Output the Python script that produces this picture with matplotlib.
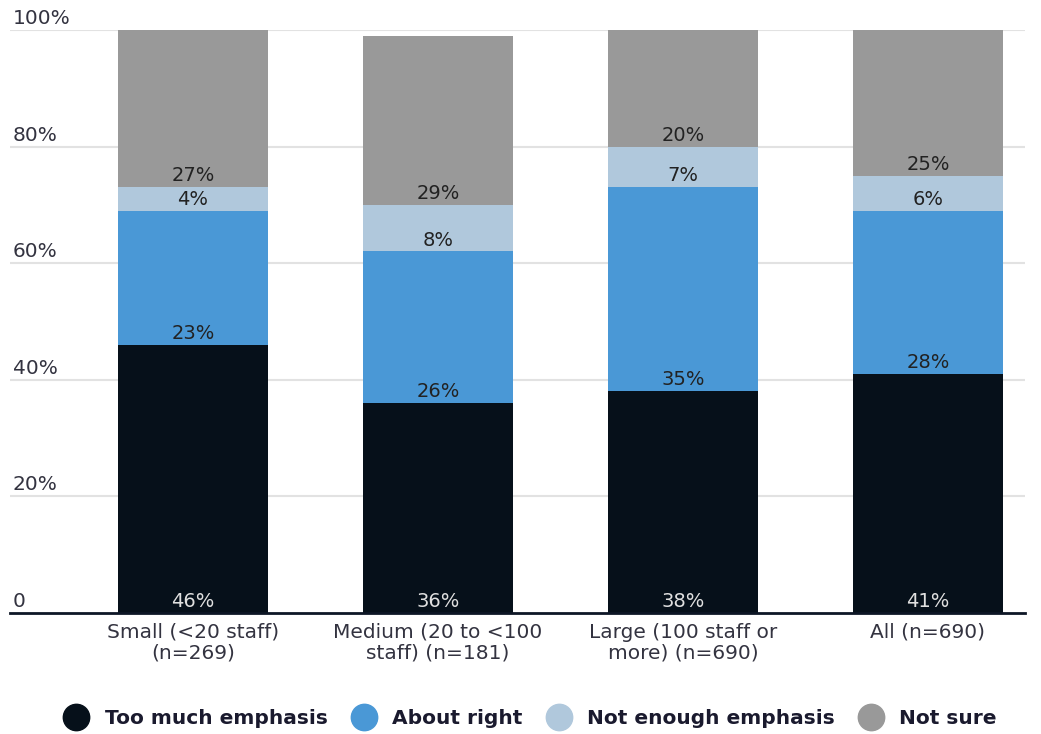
import matplotlib.pyplot as plt
from matplotlib.lines import Line2D

plt.rcParams['font.family'] = ['DejaVu Sans']

categories = ['Small (<20 staff)\n(n=269)', 'Medium (20 to <100\nstaff) (n=181)',
              'Large (100 staff or\nmore) (n=690)', 'All (n=690)']
series = ['Too much emphasis', 'About right', 'Not enough emphasis', 'Not sure']
too_much = [46, 36, 38, 41]
about_right = [23, 26, 35, 28]
not_enough = [4, 8, 7, 6]
not_sure = [27, 29, 20, 25]
yticks = [0, 20, 40, 60, 80, 100]
ytick_labels = ['0', '20%', '40%', '60%', '80%', '100%']

colors = ['#06101a', '#4a98d6', '#b0c8dc', '#999999']
label_colors = ['#e0e0e0', '#222222', '#222222', '#222222']

fig = plt.figure(figsize=(10.41, 7.34), dpi=100)
ax = fig.add_axes([0.0096, 0.1649, 0.975, 0.7943])

x = range(len(categories))
bottoms = [0] * len(categories)
for vals, col, lcol in zip([too_much, about_right, not_enough, not_sure], colors, label_colors):
    ax.bar(x, vals, width=0.612, bottom=bottoms, color=col, zorder=2)
    for i, v in enumerate(vals):
        ax.annotate(f'{v}%', (i, bottoms[i]), xytext=(0, 4.3), textcoords='offset points',
                    ha='center', va='baseline', fontsize=14, color=lcol, zorder=3)
    bottoms = [b + v for b, v in zip(bottoms, vals)]

ax.set_xlim(-0.747, 3.396)
ax.set_ylim(0, 100)
for t in yticks[1:]:
    ax.axhline(t, color='#e2e2e2', lw=1.5, zorder=1)
for t, lab in zip(yticks, ytick_labels):
    ax.annotate(lab, (0, t), xycoords=ax.get_yaxis_transform(), xytext=(2, 4.3),
                textcoords='offset points', ha='left', va='baseline', fontsize=14.5, color='#333340')

ax.set_yticks([])
ax.set_xticks(list(x))
ax.set_xticklabels(categories, fontsize=14.5, color='#333340', linespacing=1.1)
ax.tick_params(axis='x', length=0, pad=7)
for s in ['top', 'right', 'left']:
    ax.spines[s].set_visible(False)
ax.spines['bottom'].set_color('#0d1626')
ax.spines['bottom'].set_linewidth(2)
ax.spines['bottom'].set_zorder(4)

handles = [Line2D([], [], marker='o', linestyle='', markersize=19, color=c) for c in colors]
fig.legend(handles, series, loc='center', bbox_to_anchor=(0.509, 0.021), ncol=4, frameon=False,
           handletextpad=0.75, columnspacing=1.15, handlelength=1.3,
           prop={'size': 14.5, 'weight': 'bold'})
for t in fig.legends[0].get_texts():
    t.set_color('#1a1a2e')

fig.savefig('out.png', dpi=100)
